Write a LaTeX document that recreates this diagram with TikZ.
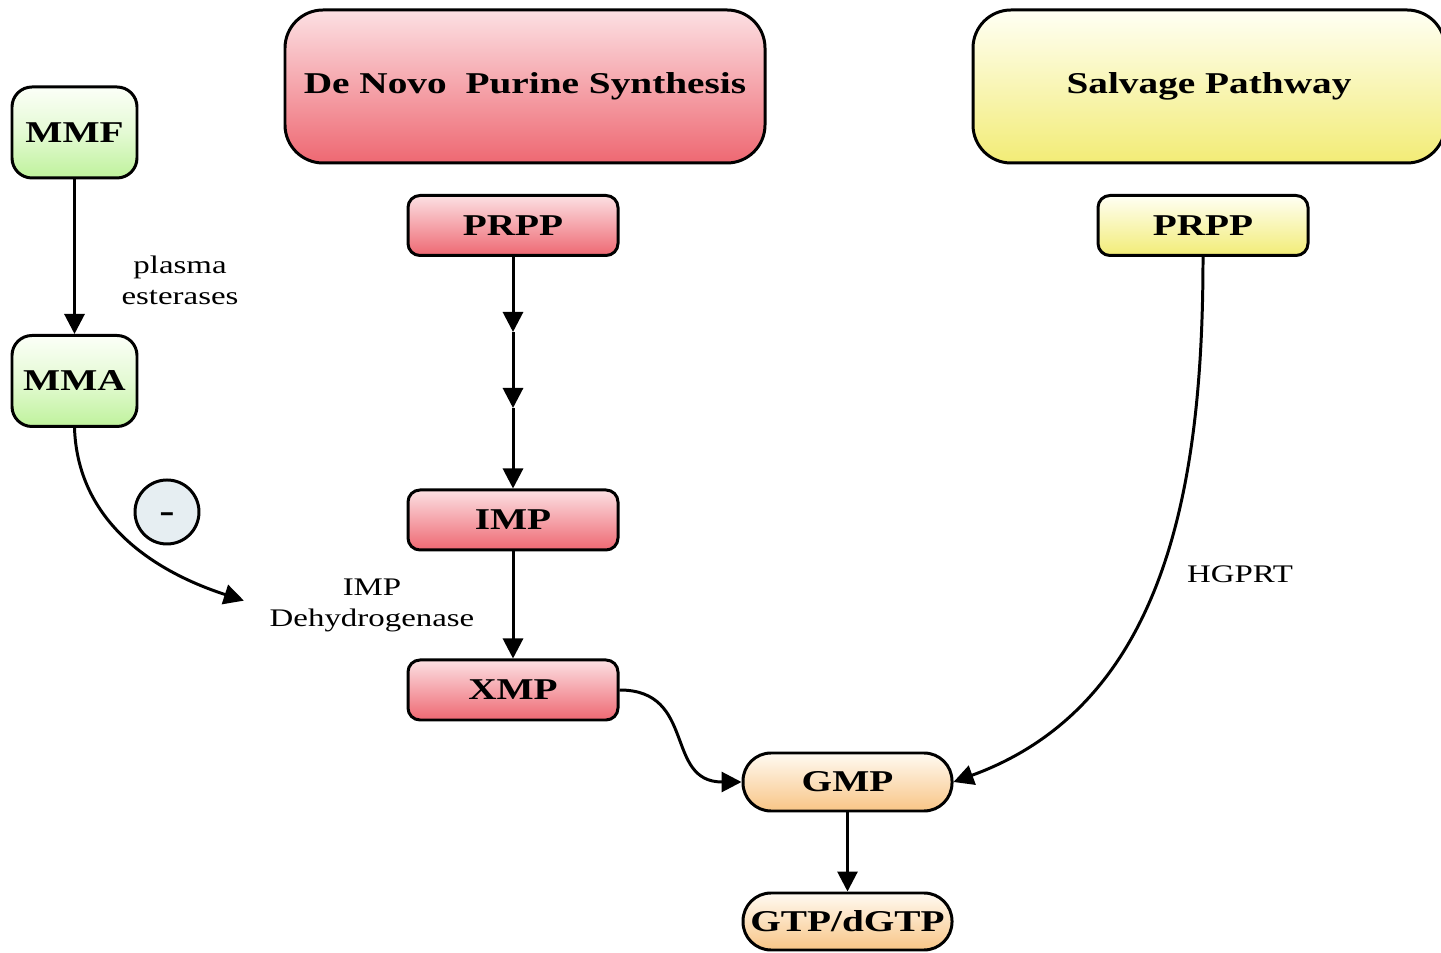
\documentclass[tikz,border=0pt]{standalone}
\usepackage{fontspec}
\setmainfont{Liberation Serif}[FakeStretch=1.3]
\usepackage{xcolor}
\usepackage{tikz}
\usetikzlibrary{arrows.meta, positioning, shapes.geometric}
\definecolor{redtop}{HTML}{FCE0E3}
\definecolor{redbot}{HTML}{EE6872}
\definecolor{greentop}{HTML}{FCFFF8}
\definecolor{greenbot}{HTML}{BFF29C}
\definecolor{yeltop}{HTML}{FFFFF4}
\definecolor{yelbot}{HTML}{F2EC76}
\definecolor{orgtop}{HTML}{FFFAF2}
\definecolor{orgbot}{HTML}{F8C586}
\definecolor{inhibfill}{HTML}{E6EEF2}

\begin{document}
\begin{tikzpicture}[
  title/.style={rectangle, draw, line width=0.85pt, rounded corners=0.38cm, minimum width=4.8cm, minimum height=1.53cm, font=\bfseries\fontsize{8.6}{10}\selectfont},
  stepbox/.style={rectangle, draw, line width=0.85pt, rounded corners=0.12cm, minimum width=2.1cm, minimum height=0.6cm, inner sep=0pt, font=\bfseries\fontsize{8.6}{10}\selectfont},
  drug/.style={rectangle, draw, line width=0.85pt, rounded corners=0.2cm, minimum width=1.25cm, minimum height=0.91cm, inner sep=0pt, top color=greentop, bottom color=greenbot, middle color=greentop!60!greenbot, font=\bfseries\fontsize{8.6}{10}\selectfont},
  product/.style={rectangle, draw, line width=0.85pt, rounded corners=0.28cm, minimum width=2.09cm, minimum height=0.58cm, inner sep=0pt, top color=orgtop, bottom color=orgbot, font=\bfseries\fontsize{8.6}{10}\selectfont},
  redfill/.style={top color=redtop, bottom color=redbot},
  yelfill/.style={top color=yeltop, bottom color=yelbot},
  inhib/.style={circle, draw, line width=0.85pt, fill=inhibfill, minimum size=0.64cm, inner sep=0pt, text height=0.62em, text depth=0pt, font=\bfseries\fontsize{10}{10}\selectfont},
  lbl/.style={align=center, font=\fontsize{7.2}{8.8}\selectfont},
  arrow/.style={-{Triangle[length=2mm, width=2mm]}, line width=0.85pt}
]
  \useasboundingbox (0,0) rectangle (14.41,9.53);
  \clip (0,0) rectangle (14.41,9.53);

  \node[drug] (mmf) at (0.745,8.205) {MMF};
  \node[drug] (mma) at (0.745,5.72) {MMA};
  \node[lbl] (ester) at (1.8,6.73) {plasma\\esterases};
  \node[inhib] (minus) at (1.67,4.41) {-};
  \node[lbl] (dehyd) at (3.72,3.48) {IMP\\Dehydrogenase};

  \node[title, redfill] (denovo) at (5.25,8.665) {De Novo\hspace{0.3em} Purine Synthesis};
  \node[stepbox, redfill] (prppA) at (5.13,7.275) {PRPP};
  \coordinate (s1) at (5.13,6.21);
  \coordinate (s2) at (5.13,5.45);
  \node[stepbox, redfill] (imp) at (5.13,4.33) {IMP};
  \node[stepbox, redfill] (xmp) at (5.13,2.63) {XMP};

  \node[title, yelfill, minimum width=4.72cm] (salvage) at (12.09,8.665) {Salvage Pathway};
  \node[stepbox, yelfill] (prppB) at (12.03,7.275) {PRPP};
  \node[lbl] (hgprt) at (12.4,3.79) {HGPRT};

  \node[product] (gmp) at (8.475,1.71) {GMP};
  \node[product, minimum height=0.57cm] (gtp) at (8.475,0.315) {GTP/dGTP};

  \draw[arrow] (mmf) -- (mma);
  \draw[arrow, shorten >=4pt] (mma.south) to[out=-88, in=162] (dehyd.west);
  \draw[arrow] (prppA) -- (s1);
  \draw[arrow] (s1) -- (s2);
  \draw[arrow] (s2) -- (imp);
  \draw[arrow] (imp) -- (xmp);
  \draw[arrow] (xmp.east) to[out=0, in=180, looseness=1.3] (gmp.west);
  \draw[arrow] (prppB.south) to[out=-90, in=20] (gmp.east);
  \draw[arrow] (gmp) -- (gtp);
\end{tikzpicture}
\end{document}
